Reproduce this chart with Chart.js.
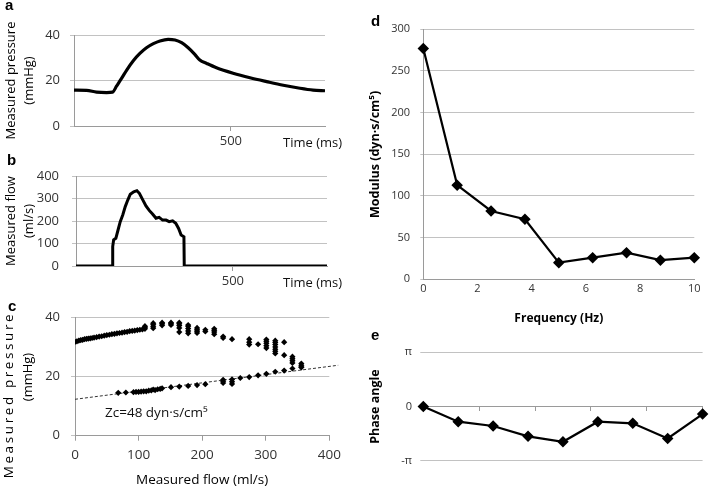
<!DOCTYPE html>
<html><head><meta charset="utf-8">
<script src="https://cdn.jsdelivr.net/npm/chart.js@4.4.0/dist/chart.umd.min.js"></script>
<style>
html,body{margin:0;padding:0;background:#fff;}
#wrap{position:relative;width:709px;height:488px;overflow:hidden;font-family:'Open Sans',sans-serif;}
canvas{position:absolute;}
.lbl{position:absolute;line-height:1;white-space:nowrap;color:#111;font-family:'Open Sans',sans-serif;}
.pl{position:absolute;line-height:1;font-family:'Liberation Sans',Arial,sans-serif;font-weight:bold;font-size:15px;color:#000;}
.rot{position:absolute;line-height:1;white-space:nowrap;font-family:'Open Sans',sans-serif;font-size:13px;color:#000;transform:translate(-50%,-50%) rotate(-90deg);}
</style></head><body>
<div id="wrap">
<canvas id="ca" width="360" height="160" style="left:0;top:0"></canvas>
<canvas id="cb" width="360" height="140" style="left:0;top:150px"></canvas>
<canvas id="cc" width="360" height="198" style="left:0;top:290px"></canvas>
<canvas id="cd" width="349" height="330" style="left:360px;top:0"></canvas>
<canvas id="ce" width="349" height="168" style="left:360px;top:320px"></canvas>
<div class="pl" style="left:5px;top:-3px">a</div>
<div class="pl" style="left:7px;top:152px">b</div>
<div class="pl" style="left:8px;top:298px">c</div>
<div class="pl" style="left:371px;top:13px">d</div>
<div class="pl" style="left:371px;top:327px">e</div>
<div class="lbl" style="left:283px;top:136px;font-size:13px">Time (ms)</div>
<div class="lbl" style="left:283px;top:276px;font-size:13px">Time (ms)</div>
<div class="lbl" style="left:105px;top:406px;font-size:13.5px">Zc=48 dyn·s/cm⁵</div>
<div class="rot" style="left:9px;top:395px;font-size:13.5px;letter-spacing:2.6px">Measured pressure</div>
<div class="rot" style="left:27px;top:377px">(mmHg)</div>
</div>
<script>
// ---- Panel a: measured pressure vs time ----
const timeA = [0,40,72,104,123,136,152,168,189,210,231,253,274,300,322,343,364,385,401,423,454,507,561,614,667,720,762,800];
const pressureA = [15.8,15.7,14.9,14.7,14.9,17.6,21.0,24.6,28.7,31.9,34.4,36.2,37.4,38.1,37.8,36.6,34.4,31.5,29.0,27.5,25.6,23.2,21.2,19.5,17.9,16.6,15.8,15.5];

// ---- Panel b: measured flow vs time ----
const timeB = [0,117,117,120,127,134,141,149,157,165,173,184,194,202,212,223,234,244,255,265,276,287,297,308,318,327,335,344,345,800];
const flowB = [0,0,86,116,123,160,197,227,264,293,319,330,335,323,296,267,246,231,212,216,204,204,197,201,190,167,138,130,0,0];

// ---- Panel c: pressure vs flow scatter ----
const upperFlow = [0,3,6,9,12,15,18,21,24,27,30,34,38,42,46,50,54,58,62,66,70,74,78,82,86,90,94,98,102,106,110,
  110,110,123,123,123,123,137,137,137,151,151,151,164,164,164,164,164,178,178,178,178,178,
  192,192,192,192,205,205,219,219,219,219,233,233,247,274,274,274,288,301,301,301,301,301,
  315,315,315,315,315,315,315,329,329,342,342,342,342,356,356,356];
const upperPressure = [31.7,31.9,32.1,32.3,32.4,32.6,32.7,32.8,32.9,33.0,33.1,33.3,33.5,33.6,33.8,34.0,34.1,34.3,34.4,34.6,34.7,34.8,35.0,35.1,35.3,35.4,35.5,35.7,35.8,35.9,36.1,
  36.6,37.0,36.3,36.8,37.5,38.0,37.3,37.8,38.2,37.4,37.8,38.2,35.0,36.4,37.2,37.8,38.2,34.6,35.4,36.2,37.0,37.4,
  34.7,35.3,35.8,36.4,35.2,35.8,34.3,35.0,35.6,36.1,33.0,33.5,32.6,30.8,31.6,32.6,30.9,29.6,30.4,31.2,31.9,32.5,
  27.8,28.5,29.2,30.0,30.8,31.5,32.1,27.2,31.6,24.6,25.3,26.0,26.7,23.2,23.8,24.4];
const lowerFlow = [68,80,92,96,100,104,108,112,116,120,123,126,130,134,137,151,164,178,192,205,233,233,233,247,247,247,260,274,288,301,315,329,342,356];
const lowerPressure = [14.5,14.6,14.7,14.8,14.8,14.9,15.0,15.0,15.2,15.3,15.6,15.4,15.7,15.8,16.0,16.4,16.6,16.8,17.1,17.4,17.8,18.4,18.9,17.5,18.2,19.0,19.5,19.8,20.4,20.9,21.6,22.0,22.7,23.1];
const trendFlow = [0,414];
const trendPressure = [12.3,23.8];

// ---- Panels d/e: input impedance spectrum ----
const frequency = [0,1.25,2.5,3.75,5,6.25,7.5,8.75,10];
const modulus = [277,113,82,72,20,26,32,23,26];
const phaseOverPi = [0,-0.28,-0.36,-0.55,-0.65,-0.28,-0.31,-0.59,-0.14];

const pts = (xs, ys) => xs.map((x, i) => ({x: x, y: ys[i]}));

Chart.defaults.font.family = "'Open Sans', sans-serif";
Chart.defaults.color = '#333';
const GRID = '#c2c2c2', AXIS = '#9a9a9a';
const fixW = w => s => { s.width = w; };
const fixH = h => s => { s.height = h; };
const base = {responsive:false, animation:false, devicePixelRatio:1,
  plugins:{legend:{display:false}, tooltip:{enabled:false}}};

// Panel a
new Chart(document.getElementById('ca'), {
  type:'line',
  data:{datasets:[{data:pts(timeA, pressureA), borderColor:'#000', borderWidth:3.2, pointRadius:0,
    cubicInterpolationMode:'monotone', fill:false}]},
  options:Object.assign({}, base, {
    layout:{padding:{left:0, top:35, right:35, bottom:9}},
    scales:{
      x:{type:'linear', min:0, max:800, afterBuildTicks:s=>{s.ticks=[{value:500}];}, afterFit:fixH(25),
        grid:{drawOnChartArea:false, drawTicks:true, tickLength:5, color:AXIS},
        border:{display:true, color:AXIS},
        ticks:{padding:2, font:{size:13}, maxRotation:0, autoSkip:false}},
      y:{min:0, max:40, afterFit:fixW(74),
        ticks:{stepSize:20, padding:10, font:{size:13}},
        grid:{color:GRID, tickLength:4}, border:{color:AXIS},
        title:{display:true, text:['Measured pressure','(mmHg)'], font:{size:13, lineHeight:1.4}, color:'#000', padding:{top:1.7, bottom:0}}}
    }
  })
});

// Panel b
new Chart(document.getElementById('cb'), {
  type:'line',
  data:{datasets:[{data:pts(timeB, flowB), borderColor:'#000', borderWidth:3, pointRadius:0, tension:0, fill:false}]},
  options:Object.assign({}, base, {
    layout:{padding:{left:0, top:26, right:33, bottom:0}},
    scales:{
      x:{type:'linear', min:0, max:800, afterBuildTicks:s=>{s.ticks=[{value:500}];}, afterFit:fixH(24),
        grid:{drawOnChartArea:false, drawTicks:true, tickLength:5, color:AXIS},
        border:{display:true, color:AXIS},
        ticks:{padding:2, font:{size:13}, maxRotation:0, autoSkip:false}},
      y:{min:0, max:400, afterFit:fixW(76),
        ticks:{stepSize:100, padding:13, font:{size:13}},
        grid:{color:GRID, tickLength:4}, border:{color:AXIS},
        title:{display:true, text:['Measured flow','(ml/s)'], font:{size:13, lineHeight:1.4}, color:'#000', padding:{top:1.7, bottom:0}}}
    }
  })
});

// Panel c
new Chart(document.getElementById('cc'), {
  type:'scatter',
  data:{datasets:[
    {data:pts(upperFlow, upperPressure), pointStyle:'rectRot', pointRadius:3.1, backgroundColor:'#000', borderColor:'#000', borderWidth:0, order:1},
    {data:pts(lowerFlow, lowerPressure), pointStyle:'rectRot', pointRadius:3.1, backgroundColor:'#000', borderColor:'#000', borderWidth:0, order:1},
    {type:'line', data:pts(trendFlow, trendPressure), borderColor:'#333', borderWidth:1, borderDash:[3,2], pointRadius:0, clip:false, order:2}
  ]},
  options:Object.assign({}, base, {
    layout:{padding:{left:0, top:27.3, right:30.7, bottom:0}},
    scales:{
      x:{type:'linear', min:0, max:400, afterFit:fixH(52.3),
        grid:{drawOnChartArea:false, drawTicks:true, tickLength:5, color:AXIS},
        border:{display:true, color:AXIS},
        ticks:{stepSize:100, padding:6, font:{size:13.5}, maxRotation:0},
        title:{display:true, text:'Measured flow (ml/s)', font:{size:13.5}, color:'#000', padding:{top:0, bottom:0}}},
      y:{min:0, max:40, afterFit:fixW(75),
        ticks:{stepSize:20, padding:11, font:{size:13}},
        grid:{color:GRID, tickLength:4}, border:{color:AXIS}}
    }
  })
});

// Panel d
new Chart(document.getElementById('cd'), {
  type:'line',
  data:{datasets:[{data:pts(frequency, modulus), borderColor:'#000', borderWidth:2.2, pointStyle:'rectRot', pointRadius:4.2,
    pointBackgroundColor:'#000', pointBorderColor:'#000', tension:0, clip:false}]},
  options:Object.assign({}, base, {
    layout:{padding:{left:0, top:29.3, right:14.7, bottom:4.7}},
    scales:{
      x:{type:'linear', min:0, max:10, afterFit:fixH(46),
        grid:{display:false, drawTicks:false}, border:{display:true, color:AXIS},
        ticks:{stepSize:2, padding:3, font:{size:11}, maxRotation:0},
        title:{display:true, text:'Frequency (Hz)', font:{size:12, weight:'bold'}, color:'#000', padding:{top:0, bottom:0}}},
      y:{min:0, max:300, afterFit:fixW(63.3),
        ticks:{stepSize:50, padding:10.3, font:{size:11}},
        grid:{color:GRID, tickLength:3}, border:{color:AXIS},
        title:{display:true, text:'Modulus (dyn·s/cm⁵)', font:{size:12.5, weight:'bold'}, color:'#000', padding:{top:8, bottom:0}}}
    }
  })
});

// Panel e
new Chart(document.getElementById('ce'), {
  type:'line',
  data:{datasets:[{data:pts(frequency, phaseOverPi), borderColor:'#000', borderWidth:2.2, pointStyle:'rectRot', pointRadius:4.2,
    pointBackgroundColor:'#000', pointBorderColor:'#000', tension:0, clip:false}]},
  options:Object.assign({}, base, {
    layout:{padding:{left:0, top:32.3, right:4, bottom:27.3}},
    scales:{
      x:{type:'linear', min:0, max:10, position:{y:0},
        grid:{drawOnChartArea:false, drawTicks:true, tickLength:4, color:AXIS},
        border:{display:true, color:AXIS},
        ticks:{stepSize:2, display:false}},
      y:{min:-1, max:1, afterFit:fixW(63.3),
        ticks:{stepSize:1, padding:8.3, font:{size:11},
          callback:v => v === 1 ? 'π' : (v === -1 ? '-π' : '0')},
        grid:{color:GRID, tickLength:3}, border:{display:false},
        title:{display:true, text:'Phase angle', font:{size:12.5, weight:'bold'}, color:'#000', padding:{top:8, bottom:0}}}
    }
  })
});
</script>
</body></html>
